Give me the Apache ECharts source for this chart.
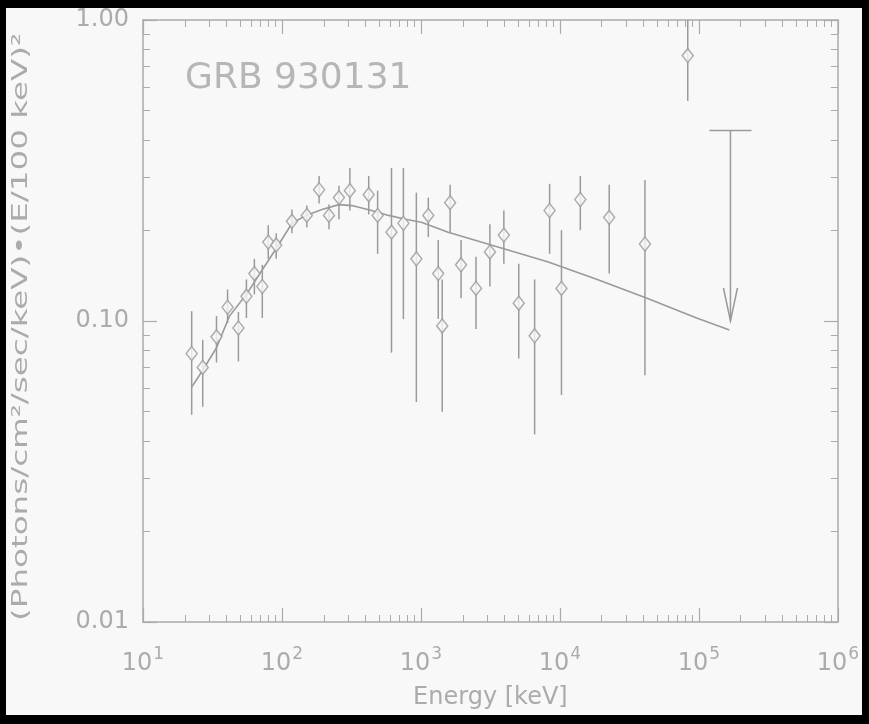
<!DOCTYPE html>
<html><head><meta charset="utf-8">
<script src="https://cdn.jsdelivr.net/npm/echarts@6/dist/echarts.min.js"></script>
<style>
html,body{margin:0;padding:0;background:#000;width:869px;height:724px;overflow:hidden}
#c{position:absolute;left:6px;top:8px;width:856px;height:707px;background:#f8f8f8}
</style></head><body><div id="c"></div>
<script>
var energy = [22.4, 26.9, 33.8, 40.6, 48.6, 55.5, 63.3, 72.2, 79.7, 90.9, 118, 151, 185, 218, 257, 308, 421, 488, 614, 748, 927, 1130, 1332, 1423, 1622, 1945, 2490, 3136, 3951, 5058, 6580, 8433, 10265, 14030, 22640, 40930, 83180];
var flux = [0.0780, 0.0701, 0.0886, 0.1111, 0.0948, 0.1208, 0.1437, 0.1302, 0.1829, 0.1788, 0.2144, 0.2243, 0.2729, 0.2243, 0.2570, 0.2710, 0.2628, 0.2243, 0.1973, 0.2112, 0.1609, 0.2243, 0.1437, 0.0963, 0.2473, 0.1537, 0.1283, 0.1696, 0.1929, 0.1146, 0.0893, 0.2329, 0.1283, 0.2533, 0.2210, 0.1802, 0.7620];
var fluxHigh = [0.1078, 0.0866, 0.1038, 0.1273, 0.1071, 0.1374, 0.1609, 0.1537, 0.2080, 0.1958, 0.2347, 0.2418, 0.3034, 0.2436, 0.2812, 0.3224, 0.3034, 0.2710, 0.3224, 0.3224, 0.2669, 0.2570, 0.1858, 0.1374, 0.2835, 0.1858, 0.1634, 0.2097, 0.2329, 0.1549, 0.1374, 0.2856, 0.2003, 0.3034, 0.2835, 0.2943, 1.0];
var fluxLow = [0.0488, 0.0519, 0.0728, 0.0985, 0.0734, 0.1023, 0.1226, 0.1023, 0.1609, 0.1609, 0.1958, 0.2049, 0.2455, 0.2018, 0.2177, 0.2329, 0.2261, 0.1671, 0.0785, 0.1015, 0.0538, 0.1900, 0.1015, 0.0499, 0.1973, 0.1190, 0.0941, 0.1302, 0.1549, 0.0750, 0.0420, 0.1671, 0.0568, 0.2003, 0.1437, 0.0660, 0.5385];
var modelE = [22.4, 26.9, 33.8, 41.9, 55.5, 74.6, 92.4, 118, 149, 194, 257, 318, 442, 585, 773, 1007, 1570, 3580, 8150, 18580, 42360, 96400, 166000];
var modelF = [0.0603, 0.0686, 0.0815, 0.1038, 0.1226, 0.1514, 0.1762, 0.2112, 0.2243, 0.2347, 0.2436, 0.2418, 0.2329, 0.2243, 0.2177, 0.2128, 0.1973, 0.1762, 0.1573, 0.1374, 0.1190, 0.1023, 0.0934];
var limitE = [168800];
var limitTop = [0.4295];
var limitTip = [0.10];
var yTickLabels = {'0.01':'0.01','0.1':'0.10','1':'1.00'};
var titleText = 'GRB 930131';
var xName = 'Energy [keV]';
var yName = '(Photons/cm\u00B2/sec/keV)\u2022(E/100 keV)\u00B2';

var GRAY = '#ababab';
var LINE = '#9a9a9a';
var FONT = 'DejaVu Sans';

var chart = echarts.init(document.getElementById('c'));
var axisCommon = {
  type: 'log', logBase: 10,
  axisLine: {show: true, lineStyle: {color: GRAY, width: 1.5}},
  axisTick: {show: true, inside: true, length: 14, lineStyle: {color: GRAY, width: 1.2}},
  minorTick: {show: true, splitNumber: 9, length: 7, lineStyle: {color: GRAY, width: 1}},
  splitLine: {show: false}
};
function mk(o){ return Object.assign({}, JSON.parse(JSON.stringify(axisCommon)), o); }

var errData = energy.map(function(e,i){ return [e, fluxLow[i], fluxHigh[i]]; });
var ptData = energy.map(function(e,i){ return [e, flux[i]]; });
var modelData = modelE.map(function(e,i){ return [e, modelF[i]]; });
var limData = limitE.map(function(e,i){ return [e, limitTip[i], limitTop[i]]; });

chart.setOption({
  animation: false,
  grid: {left: 137, top: 12, width: 699, height: 610},
  xAxis: [
    mk({min: 10, max: 1e6, position: 'bottom',
      name: xName, nameLocation: 'middle', nameGap: 64,
      nameTextStyle: {color: GRAY, fontFamily: FONT, fontSize: 24},
      axisLabel: {show: true, margin: 24, color: GRAY, fontFamily: FONT,
        formatter: function(v){ var p = Math.round(Math.log10(v)); return '{b|10}{s|' + p + '}'; },
        rich: {b: {fontSize: 24, color: GRAY, fontFamily: FONT, verticalAlign: 'bottom', lineHeight: 30},
               s: {fontSize: 17, color: GRAY, fontFamily: FONT, verticalAlign: 'top', lineHeight: 30, padding: [0,0,16,1]}}}}),
    mk({min: 10, max: 1e6, position: 'top', axisLabel: {show: false}})
  ],
  yAxis: [
    mk({min: 0.01, max: 1, position: 'left',
      axisLabel: {show: true, margin: 14, color: GRAY, fontFamily: FONT, fontSize: 24, padding: [8,0,0,0],
        formatter: function(v){ var k = String(+v.toPrecision(3)); return yTickLabels[k] || ''; }}}),
    mk({min: 0.01, max: 1, position: 'right', axisLabel: {show: false}})
  ],
  graphic: [
    {type: 'text', left: 179, top: 53, style: {text: titleText, fill: '#b6b6b6', font: '36px "DejaVu Sans"'}},
    {type: 'text', x: 16, y: 319, rotation: Math.PI/2, scaleX: 1.55,
      style: {text: yName, fill: GRAY, font: '21px "DejaVu Sans"', textAlign: 'center', textVerticalAlign: 'middle'}}
  ],
  series: [
    {type: 'line', data: modelData, showSymbol: false, lineStyle: {color: LINE, width: 1.6}, z: 2},
    {type: 'custom', data: errData, encode: {x: 0, y: [1, 2]}, z: 3,
      renderItem: function(params, api){
        var a = api.coord([api.value(0), api.value(1)]);
        var b = api.coord([api.value(0), api.value(2)]);
        return {type: 'line', shape: {x1: a[0], y1: a[1], x2: b[0], y2: b[1]}, style: {stroke: LINE, lineWidth: 1.5}};
      }},
    {type: 'scatter', data: ptData, symbol: 'diamond', symbolSize: [11, 14], z: 4,
      itemStyle: {color: '#f8f8f8', borderColor: LINE, borderWidth: 1.5}},
    {type: 'custom', data: limData, encode: {x: 0, y: [1, 2]}, z: 3,
      renderItem: function(params, api){
        var tip = api.coord([api.value(0), api.value(1)]);
        var top = api.coord([api.value(0), api.value(2)]);
        var st = {stroke: LINE, lineWidth: 1.5, fill: 'none'};
        return {type: 'group', children: [
          {type: 'line', shape: {x1: top[0]-21, y1: top[1], x2: top[0]+21, y2: top[1]}, style: st},
          {type: 'line', shape: {x1: top[0], y1: top[1], x2: tip[0], y2: tip[1]}, style: st},
          {type: 'polyline', shape: {points: [[tip[0]-7, tip[1]-33], [tip[0], tip[1]], [tip[0]+7, tip[1]-33]]}, style: st}
        ]};
      }}
  ]
});
</script></body></html>
